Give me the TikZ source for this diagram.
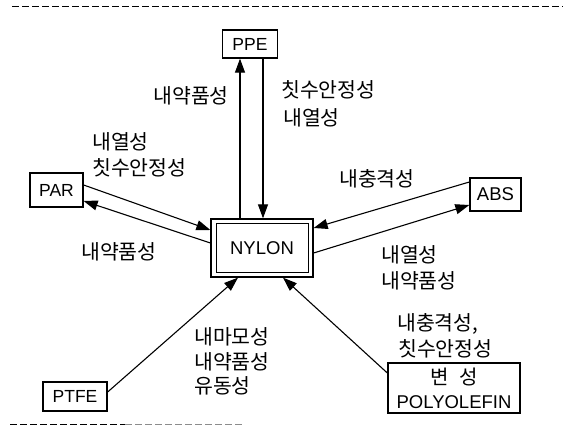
\documentclass[tikz,border=0pt]{standalone}
\usepackage{fontspec}
\setmainfont{Liberation Sans}
\newfontfamily\kr{Noto Sans CJK KR}
\usetikzlibrary{arrows.meta,calc}
\begin{document}
\begin{tikzpicture}[x=1pt,y=-1pt,
  box/.style={draw,line width=1.3pt,inner sep=0pt,font=\fontsize{17.5}{19}\selectfont},
  lbl/.style={font=\kr\fontsize{20.5}{24}\selectfont,inner sep=0pt,anchor=west},
  con/.style={line width=1.1pt,-{Triangle[length=14pt,width=10pt]}},
  rule/.style={line width=1pt,dash pattern=on 7pt off 3pt}]
\useasboundingbox (0,0) rectangle (563,433);
% rules
\draw[rule] (12,7) -- (563,7);
\draw[rule] (10,424) -- (125,424);
\draw[rule,black!45] (125,424) -- (245,424);
% boxes
\node[box,minimum width=55pt,minimum height=28pt] (ppe) at (250,44) {PPE};
\node[box,minimum width=53pt,minimum height=34pt] (par) at (56.5,190) {PAR};
\node[box,minimum width=51pt,minimum height=33pt,font=\fontsize{18.5}{20}\selectfont] (abs) at (495.5,194.5) {ABS};
\node[box,minimum width=102pt,minimum height=58pt,font=\fontsize{18.5}{20}\selectfont] (ny) at (262,248) {NYLON};
\draw[line width=1.1pt] ($(ny.north west)+(6,5)$) rectangle ($(ny.south east)+(-5,-5)$);
\node[box,minimum width=64pt,minimum height=29pt] (ptfe) at (75,396.5) {PTFE};
\node[box,minimum width=132pt,minimum height=50pt,align=center,font=\fontsize{18.5}{24}\selectfont] (po) at (454,388) {{\kr\fontsize{20}{24}\selectfont 변\hspace{0.55em}성}\\POLYOLEFIN};
% connectors
\coordinate (vl) at (240,0);
\coordinate (vr) at (263,0);
\draw[con] (ny.north -| vl) -- (ppe.south -| vl);
\draw[con] (ppe.south -| vr) -- (ny.north -| vr);
\draw[con] ([yshift=5pt]par.east) -- ([yshift=18pt]ny.west);
\draw[con] ([yshift=5pt]ny.west) -- ([yshift=-11pt]par.east);
\draw[con] ([yshift=12.5pt]abs.west) -- ([yshift=20pt]ny.east);
\draw[con] ([yshift=-5pt]ny.east) -- ([yshift=-10.5pt]abs.west);
\draw[con] ([yshift=4.5pt]ptfe.east) -- ([xshift=-24pt]ny.south);
\draw[con] ([yshift=15pt]po.west) -- ([xshift=21pt]ny.south);
% labels
\node[lbl,anchor=east] (l1) at (229,96) {내약품성};
\node[lbl] (l2) at (281,90) {칫수안정성};
\node[lbl] (l3) at (283,118) {내열성};
\node[lbl] (l4) at (92,142) {내열성};
\node[lbl] (l5) at (92,168) {칫수안정성};
\node[lbl] (l6) at (81,252) {내약품성};
\node[lbl] (l7) at (339,179) {내충격성};
\node[lbl] (l8) at (381,255) {내열성};
\node[lbl] (l9) at (381,281) {내약품성};
\node[lbl] (l10) at (194,337) {내마모성};
\node[lbl] (l11) at (194,362) {내약품성};
\node[lbl] (l12) at (194,386) {유동성};
\node[lbl] (l13) at (397,324) {내충격성,};
\node[lbl] (l14) at (398,349) {칫수안정성};
\end{tikzpicture}
\end{document}
